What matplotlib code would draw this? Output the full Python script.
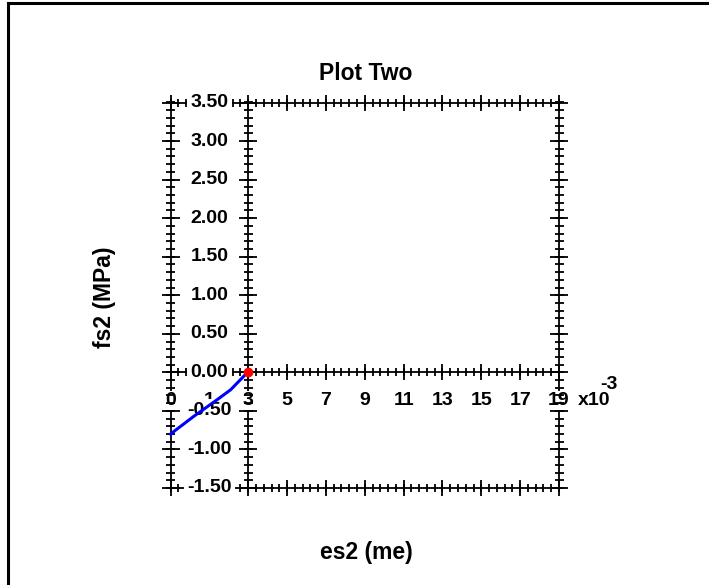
import numpy as np
import matplotlib.pyplot as plt
from matplotlib.lines import Line2D

plt.rcParams['font.family'] = ['Liberation Sans', 'DejaVu Sans']

# data: es2 in 1e-3, fs2 in MPa
es2 = [-1.0, 0.2, 1.4, 2.1, 2.85, 3.0]
fs2 = [-0.80, -0.57, -0.355, -0.225, -0.03, 0.0]
cur_es = [3.0]
cur_fs = [0.0]

x_major = [-1, 1, 3, 5, 7, 9, 11, 13, 15, 17, 19]
x_labels = ['0', '1', '3', '5', '7', '9', '11', '13', '15', '17', '19']
y_major = [-1.5, -1.0, -0.5, 0.0, 0.5, 1.0, 1.5, 2.0, 2.5, 3.0, 3.5]
y_labels = ['-1.50', '-1.00', '-0.50', '0.00', '0.50', '1.00', '1.50',
            '2.00', '2.50', '3.00', '3.50']

W, H = 709, 585
fig = plt.figure(figsize=(W / 100, H / 100), dpi=100)
L, R, T, B = 170.5, 559, 102.5, 488
ax = fig.add_axes([L / W, 1 - B / H, (R - L) / W, (B - T) / H])
xmin, xmax, ymin, ymax = -1, 19, -1.5, 3.5
ax.set_xlim(xmin, xmax)
ax.set_ylim(ymin, ymax)
ax.axis('off')

# pixel -> data units
px_x = (xmax - xmin) / (R - L)
px_y = (ymax - ymin) / (B - T)

lw = 1.3
vert_lines = [xmin, 3, xmax]
horiz_lines = [ymin, 0, ymax]
y_minor = np.arange(-1.5, 3.51, 0.1)
x_minor = np.arange(-1, 19.01, 0.4)

for xv in vert_lines:
    ax.vlines(xv, ymin, ymax, color='black', lw=lw, zorder=1, clip_on=False)
    ax.hlines(y_minor, xv - 4.5 * px_x, xv + 4.5 * px_x, color='black', lw=lw, zorder=3, clip_on=False)
    ax.hlines(y_major, xv - 9 * px_x, xv + 9 * px_x, color='black', lw=lw, zorder=3, clip_on=False)

for yh in horiz_lines:
    ax.hlines(yh, xmin, xmax, color='black', lw=lw, zorder=1, clip_on=False)
    ax.vlines(x_minor, yh - 4 * px_y, yh + 4 * px_y, color='black', lw=lw, zorder=3, clip_on=False)
    ax.vlines(x_major, yh - 8 * px_y, yh + 8 * px_y, color='black', lw=lw, zorder=3, clip_on=False)

fs = 14
lab_y = -28 * px_y
for xv, s in zip(x_major, x_labels):
    ax.text(xv, lab_y, s, ha='center', va='center', fontsize=fs, fontweight='bold',
            zorder=2, bbox=dict(facecolor='white', edgecolor='none', pad=0.5))
ax.text(xmax + 19 * px_x, lab_y, 'x10', ha='left', va='center', fontsize=fs,
        fontweight='bold', zorder=2)
ax.text(xmax + 50 * px_x, lab_y + 16 * px_y, '-3', ha='center', va='center',
        fontsize=fs, fontweight='bold', zorder=2)

for yv, s in zip(y_major, y_labels):
    ax.text(1, yv, s, ha='center', va='center', fontsize=fs, fontweight='bold',
            zorder=4, bbox=dict(facecolor='white', edgecolor='none', pad=2.5))

ax.plot(es2, fs2, color='#0000ff', lw=2.2, zorder=5, clip_on=False)
ax.plot(cur_es, cur_fs, 'o', color='red', ms=6, zorder=6, clip_on=False)

fig.text(366 / W, 1 - 74 / H, 'Plot Two', ha='center', va='center',
         fontsize=16.5, fontweight='bold')
fig.text(105 / W, 1 - 297 / H, 'fs2 (MPa)', ha='center', va='center',
         rotation=90, fontsize=16.5, fontweight='bold')
fig.text(366 / W, 1 - 552 / H, 'es2 (me)', ha='center', va='center',
         fontsize=16.5, fontweight='bold')

# outer frame (top and left edges)
fig.add_artist(Line2D([8 / W, 1], [1 - 3 / H, 1 - 3 / H], color='black', lw=2.2))
fig.add_artist(Line2D([8 / W, 8 / W], [0, 1 - 3 / H], color='black', lw=2.2))

fig.savefig('out.png', dpi=100)
